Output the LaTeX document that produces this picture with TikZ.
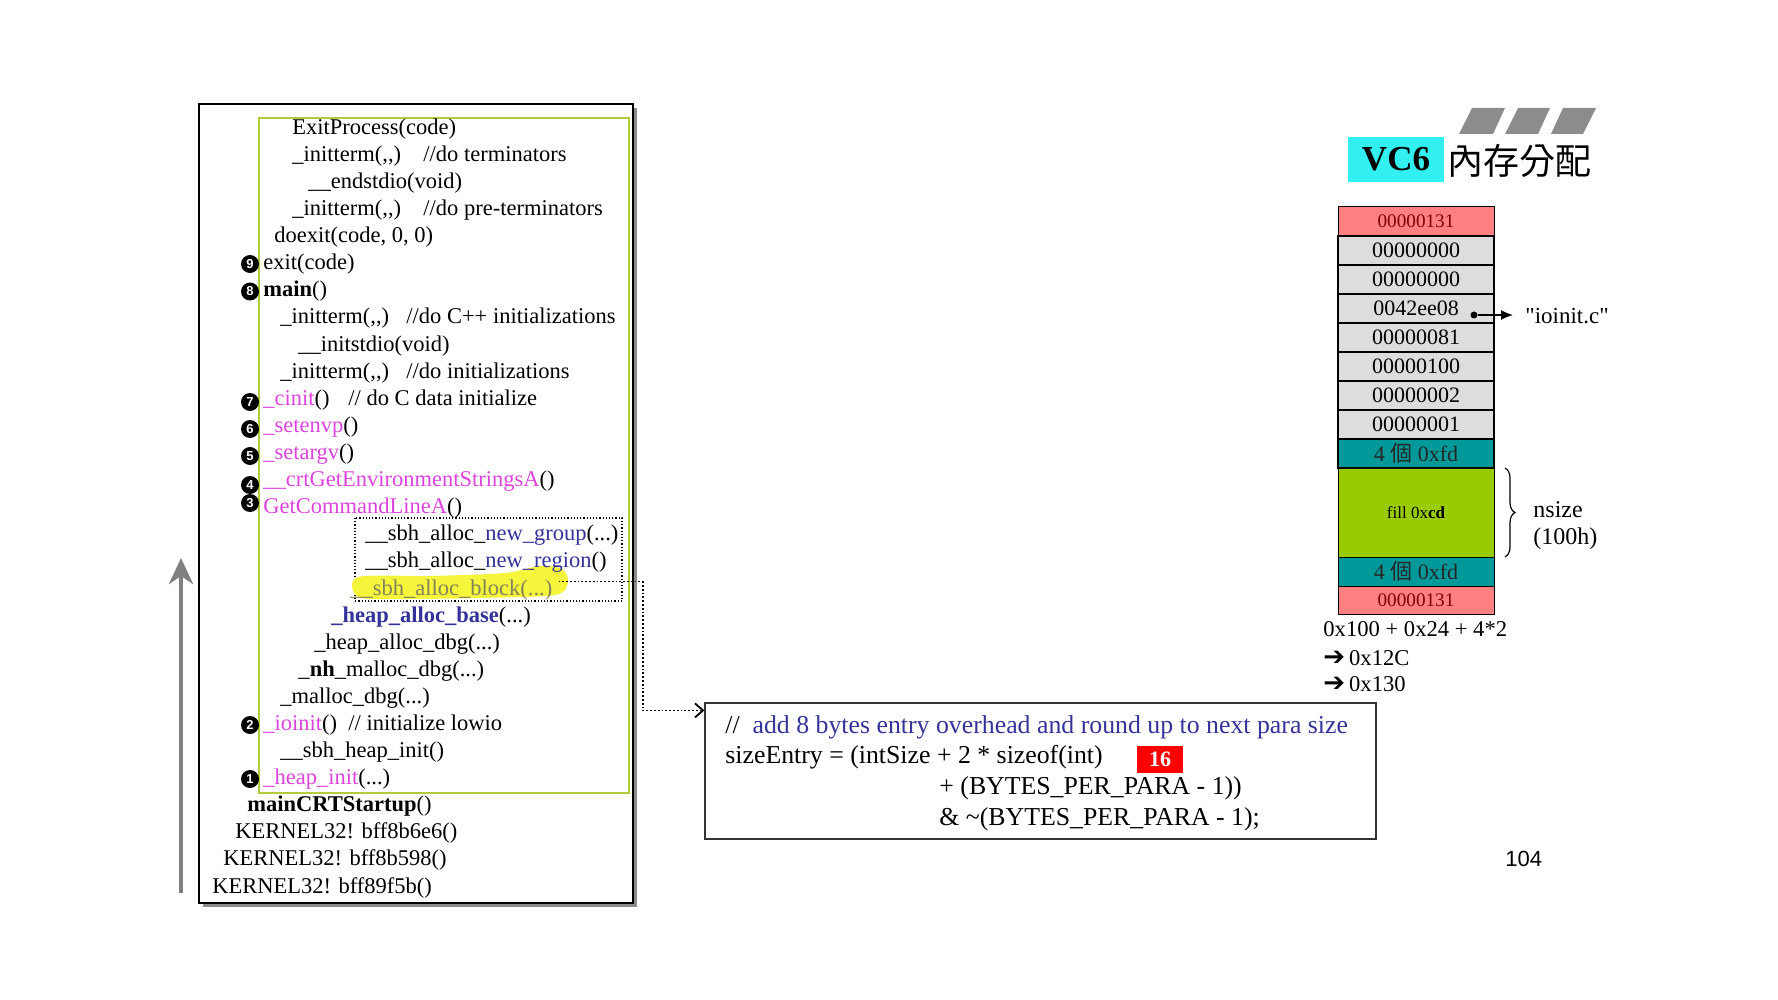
\documentclass[tikz,border=0pt]{standalone}
\usepackage{fontspec}
\setmainfont{Liberation Serif}[Ligatures=TeXOff]
\setsansfont{Liberation Sans}
\newfontfamily\cjk{Noto Sans CJK TC}
\newfontfamily\dejavu{DejaVu Sans}
\usetikzlibrary{arrows.meta,positioning,decorations.pathreplacing}
\definecolor{fnpink}{RGB}{221,68,221}
\definecolor{fnblue}{RGB}{51,51,153}
\definecolor{framegreen}{RGB}{175,204,60}
\definecolor{marker}{RGB}{245,245,60}
\definecolor{faded}{RGB}{130,130,90}
\definecolor{hdrred}{RGB}{255,128,128}
\definecolor{hdrtext}{RGB}{128,0,0}
\definecolor{cellgray}{RGB}{221,221,221}
\definecolor{fdteal}{RGB}{0,153,153}
\definecolor{fillgreen}{RGB}{153,204,0}
\definecolor{titlecyan}{RGB}{51,240,240}
\definecolor{arrowgray}{RGB}{128,128,128}
\definecolor{barsgray}{RGB}{140,140,140}
\tikzset{
	call/.style={anchor=base west, inner sep=0pt, font=\fontsize{11.25}{13}\selectfont},
	badge/.style={circle, fill=black, text=white, inner sep=0pt, minimum size=9pt, font=\sffamily\bfseries\fontsize{6.5}{6.5}\selectfont},
	codeline/.style={anchor=base west, inner sep=0pt, font=\fontsize{12.9}{15}\selectfont},
	cell/.style={draw, outer sep=0pt, inner sep=0pt, minimum width=78pt, minimum height=14.5pt, fill=cellgray, line width=1.3pt, font=\fontsize{11}{11}\selectfont},
	hdrcell/.style={cell, fill=hdrred, text=hdrtext, line width=0.5pt, font=\fontsize{9.6}{9.6}\selectfont},
	fdcell/.style={cell, fill=fdteal, text=black!85},
	note/.style={anchor=base west, inner sep=0pt, font=\fontsize{11.3}{13.5}\selectfont},
}

\begin{document}
\begin{tikzpicture}[x=0.5pt, y=-0.5pt]
	\useasboundingbox (0,0) rectangle (1778,1000);
	% call stack frame
	\fill[black!45] (203,108) rectangle (637,907);
	\draw[fill=white, line width=0.9pt] (199,104) rectangle (633,903);
	\draw[framegreen, line width=1.1pt] (259,118) rectangle (629,793);
	\draw[densely dotted, line width=0.6pt] (355,518) rectangle (622,601);
	\fill[marker] plot[smooth cycle] coordinates {(358,577) (430,576) (505,573) (540,566) (562,569) (568,582) (555,595) (480,598) (400,599) (358,597)};
	\coordinate (up0) at (181,893);
	\coordinate (up1) at (181,558);
	\draw[line width=2.3pt, arrowgray, -{Stealth[length=13pt,width=12pt,inset=4pt]}] (up0) -- (up1);

	\node[call] (exitprocess) at (292,134.4) {ExitProcess(code)};
	\node[call] (termA) at (292,161.5) {\makebox[65.5pt][l]{\_initterm(,,)}//do terminators};
	\node[call] (endstdio) at (308,188.6) {\_\_endstdio(void)};
	\node[call] (termB) at (292,215.7) {\makebox[65.5pt][l]{\_initterm(,,)}//do pre-terminators};
	\node[call] (doexit) at (274,242.8) {doexit(code, 0, 0)};
	\node[call] (exit) at (263,269.9) {exit(code)};
	\node[call] (main) at (263,297) {\textbf{main}()};
	\node[call] (termC) at (280,324) {\makebox[63pt][l]{\_initterm(,,)}//do C++ initializations};
	\node[call] (initstdio) at (298,351.1) {\_\_initstdio(void)};
	\node[call] (termD) at (280,378.2) {\makebox[63pt][l]{\_initterm(,,)}//do initializations};
	\node[call] (cinit) at (263,405.3) {\makebox[42.5pt][l]{\textcolor{fnpink}{\_cinit}()}// do C data initialize};
	\node[call] (setenvp) at (263,432.4) {\textcolor{fnpink}{\_setenvp}()};
	\node[call] (setargv) at (263,459.5) {\textcolor{fnpink}{\_setargv}()};
	\node[call] (getenv) at (263,486.6) {\textcolor{fnpink}{\_\_crtGetEnvironmentStringsA}()};
	\node[call] (getcmd) at (263,513.7) {\textcolor{fnpink}{GetCommandLineA}()};
	\node[call] (newgroup) at (365,540.8) {\_\_sbh\_alloc\_\textcolor{fnblue}{new\_group}(...)};
	\node[call] (newregion) at (365,567.9) {\_\_sbh\_alloc\_\textcolor{fnblue}{new\_region}()};
	\node[call, text=faded] (allocblock) at (350,595) {\_\_sbh\_alloc\_block(...)};
	\node[call] (allocbase) at (331,622) {\textcolor{fnblue}{\textbf{\_heap\_alloc\_base}}(...)};
	\node[call] (allocdbg) at (314,649.1) {\_heap\_alloc\_dbg(...)};
	\node[call] (nhmalloc) at (298,676.2) {\_\textbf{nh}\_malloc\_dbg(...)};
	\node[call] (mallocdbg) at (280,703.3) {\_malloc\_dbg(...)};
	\node[call] (ioinit) at (263,730.4) {\makebox[42.5pt][l]{\textcolor{fnpink}{\_ioinit}()}// initialize lowio};
	\node[call] (sbhinit) at (280,757.5) {\_\_sbh\_heap\_init()};
	\node[call] (heapinit) at (263,784.6) {\textcolor{fnpink}{\_heap\_init}(...)};
	\node[call] (startup) at (247,811.7) {\textbf{mainCRTStartup}()};
	\node[call] (kernelA) at (235,838.8) {KERNEL32! bff8b6e6()};
	\node[call] (kernelB) at (223,865.9) {KERNEL32! bff8b598()};
	\node[call] (kernelC) at (212,893) {KERNEL32! bff89f5b()};

	\node[badge] (b9) at (250,264) {9};
	\node[badge] (b8) at (250,291.5) {8};
	\node[badge] (b7) at (250,402) {7};
	\node[badge] (b6) at (250,429) {6};
	\node[badge] (b5) at (250,456) {5};
	\node[badge] (b4) at (250,485) {4};
	\node[badge] (b3) at (250,503) {3};
	\node[badge] (b2) at (250,725) {2};
	\node[badge] (b1) at (250,779) {1};

	% entry size code
	\node[draw=black!80, line width=0.6pt, minimum width=335.5pt, minimum height=68pt, inner sep=0pt] (code) at (1040.5,771) {};
	\node[codeline] (comment) at (725,733) {//\hspace{0.5em}\textcolor{fnblue}{add 8 bytes entry overhead and round up to next para size}};
	\node[codeline] (sizeentry) at (725,763) {sizeEntry = (intSize + 2 * sizeof(int)};
	\node[codeline] (paraplus) at (939,794) {+ (BYTES\_PER\_PARA - 1))};
	\node[codeline] (paramask) at (939,825) {\& \textasciitilde(BYTES\_PER\_PARA - 1);};
	\node[fill=red, text=white, minimum width=23pt, minimum height=13.5pt, inner sep=0pt, font=\bfseries\fontsize{11}{11}\selectfont] (sixteen) at (1160,759.5) {16};
	\coordinate (codein) at ([yshift=-4pt]code.north west);
	\draw[densely dotted, line width=0.9pt, -{Straight Barb[length=4pt,width=7pt]}] ([xshift=3pt,yshift=4pt]allocblock.east) -- ++(84,0) |- (codein);

	% title
	\fill[barsgray] (1459,134) -- (1493,134) -- (1505,108) -- (1472,108) -- cycle;
	\fill[barsgray] (1505,134) -- (1538,134) -- (1550,108) -- (1518,108) -- cycle;
	\fill[barsgray] (1551,134) -- (1583,134) -- (1596,108) -- (1563,108) -- cycle;
	\node[fill=titlecyan, minimum width=48pt, minimum height=22.5pt, inner sep=0pt, font=\bfseries\fontsize{17.5}{17.5}\selectfont] (vc6) at (1396,159.5) {VC6};
	\node[anchor=west, inner sep=0pt, font=\cjk\fontsize{18}{18}\selectfont] (heading) at (1447,161) {內存分配};

	% block layout
	\node[hdrcell] (r0) at (1416,221.5) {00000131};
	\node[cell, below=0pt of r0] (r1) {00000000};
	\node[cell, below=0pt of r1] (r2) {00000000};
	\node[cell, below=0pt of r2] (r3) {0042ee08\hspace{12pt}};
	\node[cell, below=0pt of r3] (r4) {00000081};
	\node[cell, below=0pt of r4] (r5) {00000100};
	\node[cell, below=0pt of r5] (r6) {00000002};
	\node[cell, below=0pt of r6] (r7) {00000001};
	\node[fdcell, below=0pt of r7] (r8) {4 {\cjk 個} 0xfd};
	\node[cell, below=0pt of r8, fill=fillgreen, line width=0.5pt, minimum height=44.5pt, font=\fontsize{8.5}{8.5}\selectfont] (r9) {fill 0x\textbf{cd}};
	\node[fdcell, below=0pt of r9, line width=0.5pt] (r10) {4 {\cjk 個} 0xfd};
	\node[hdrcell, below=0pt of r10, minimum height=14pt] (r11) {00000131};
	\draw[line width=1.3pt] (r1.north west) rectangle (r8.south east);

	\node[circle, fill=black, inner sep=0pt, minimum size=3.5pt] (ptr) at (1474,315) {};
	\node[anchor=west, inner sep=0pt, font=\fontsize{11.5}{11.5}\selectfont] (ioinitc) at (1525,316) {"ioinit.c"};
	\draw[line width=0.6pt, shorten >=6pt, -{Latex[length=6pt,width=5pt]}] (ptr) -- (ptr -| ioinitc.west);

	\draw[decorate, decoration={brace, amplitude=5pt}, line width=0.6pt] ([xshift=5.5pt]r9.north east) -- ([xshift=5.5pt]r9.south east);
	\node[anchor=west, align=left, inner sep=0pt, font=\fontsize{12}{13.5}\selectfont] (nsize) at (1533,526) {nsize\\(100h)};

	\node[note] (sum0) at (1323,636) {0x100 + 0x24 + 4*2};
	\node[note] (sum1) at (1323,665) {{\dejavu\fontsize{13}{13}\selectfont ➔}\hspace{2pt}0x12C};
	\node[note] (sum2) at (1323,691) {{\dejavu\fontsize{13}{13}\selectfont ➔}\hspace{2pt}0x130};

	\node[anchor=base west, inner sep=0pt, font=\sffamily\fontsize{11}{11}\selectfont] (pageno) at (1505,866) {104};
\end{tikzpicture}
\end{document}
